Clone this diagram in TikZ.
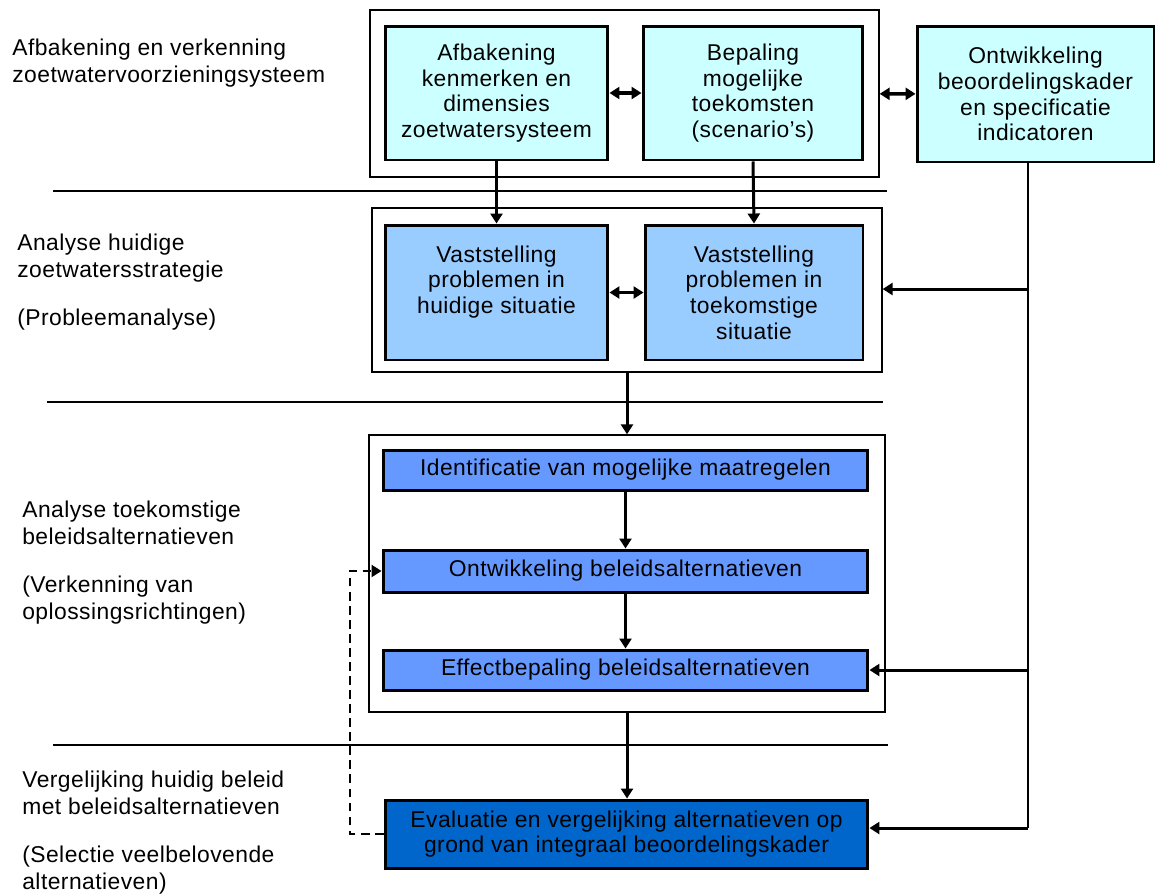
\documentclass[tikz,border=0pt]{standalone}
\usepackage{fontspec}
\setmainfont{Liberation Sans}[LetterSpace=2]
\usetikzlibrary{arrows.meta,positioning,calc}
\definecolor{ijsblauw}{HTML}{CCFFFF}
\definecolor{lichtblauw}{HTML}{99CCFF}
\definecolor{middenblauw}{HTML}{6699FF}
\definecolor{donkerblauw}{HTML}{0066CC}

\tikzset{
    stap/.style={draw, line width=1.7pt, align=center, inner sep=1pt,
        font=\fontsize{13}{14.6}\selectfont},
    kader/.style={draw, line width=0.8pt},
    scheiding/.style={line width=0.6pt},
    pijl/.style={line width=1.7pt, -{Triangle[length=2mm,width=2.4mm]}},
    dubbel/.style={line width=1.9pt, {Triangle[length=2mm,width=2.4mm]}-{Triangle[length=2mm,width=2.4mm]}},
    fase/.style={anchor=base west, align=left, inner sep=0pt,
        font=\fontsize{13}{15.2}\selectfont}
}

\begin{document}
\begin{tikzpicture}[x=0.02cm, y=-0.02cm]
\useasboundingbox (0,0) rectangle (1155,894);

% fases links (ankers op de laatste regel)
\node[fase] (fase1) at (12,82) {Afbakening en verkenning\\zoetwatervoorzieningsysteem};
\node[fase] (fase2) at (17,325) {Analyse huidige\\zoetwatersstrategie\\[0.42cm](Probleemanalyse)};
\node[fase] (fase3) at (22,619) {Analyse toekomstige\\beleidsalternatieven\\[0.42cm](Verkenning van\\oplossingsrichtingen)};
\node[fase] (fase4) at (22,889) {Vergelijking huidig beleid\\met beleidsalternatieven\\[0.42cm](Selectie veelbelovende\\alternatieven)};

% scheidingslijnen
\draw[scheiding] (53,191) -- (887,191);
\draw[scheiding] (47,402) -- (883,402);
\draw[scheiding] (53,745) -- (888,745);

% kaders
\node[kader, minimum width=10.18cm, minimum height=3.34cm] (kader1) at (624.5,93.5) {};
\node[kader, minimum width=10.2cm, minimum height=3.28cm] (kader2) at (627,290) {};
\node[kader, minimum width=10.32cm, minimum height=5.54cm] (kader3) at (627,573.5) {};

% stappen
\node[stap, fill=ijsblauw, minimum width=4.46cm, minimum height=2.68cm] (afbakening) at (496.5,93) {Afbakening\\kenmerken en\\dimensies\\zoetwatersysteem};
\node[stap, fill=ijsblauw, minimum width=4.4cm, minimum height=2.68cm] (toekomsten) at (753,93) {Bepaling\\mogelijke\\toekomsten\\(scenario's)};
\node[stap, fill=ijsblauw, minimum width=4.74cm, minimum height=2.72cm] (beoordeling) at (1035.5,94) {Ontwikkeling\\beoordelingskader\\en specificatie\\indicatoren};

\node[stap, fill=lichtblauw, minimum width=4.46cm, minimum height=2.7cm] (huidig) at (496.5,292.5) {Vaststelling\\problemen in\\huidige situatie\\\mbox{}};
\node[stap, fill=lichtblauw, minimum width=4.36cm, minimum height=2.7cm] (toekomstig) at (754,292.5) {Vaststelling\\problemen in\\toekomstige\\situatie};

\node[stap, fill=middenblauw, minimum width=9.7cm, minimum height=0.8cm] (maatregelen) at (625.5,470) {Identificatie van mogelijke maatregelen};
\node[stap, fill=middenblauw, minimum width=9.7cm, minimum height=0.84cm] (alternatieven) at (625.5,571) {Ontwikkeling beleidsalternatieven};
\node[stap, fill=middenblauw, minimum width=9.7cm, minimum height=0.8cm] (effecten) at (625.5,670) {Effectbepaling beleidsalternatieven};

\node[stap, fill=donkerblauw, minimum width=9.66cm, minimum height=1.36cm] (evaluatie) at (626.5,834) {Evaluatie en vergelijking alternatieven op\\grond van integraal beoordelingskader};

% verbindingen
\draw[dubbel] (afbakening) -- (toekomsten);
\draw[dubbel] (kader1) -- (beoordeling);
\draw[dubbel] (huidig.east |- toekomstig.west) -- (toekomstig);
\draw[pijl] (afbakening.south) -- (afbakening.south |- huidig.north);
\draw[pijl] (toekomsten.south) -- (toekomstig.north);
\draw[pijl] (kader2.south) -- (kader2.south |- kader3.north);
\draw[pijl] (maatregelen) -- (alternatieven);
\draw[pijl] (alternatieven) -- (effecten);
\draw[pijl] (kader3.south) -- (kader3.south |- evaluatie.north);

% beoordelingskader naar rechts
\coordinate (rechts) at (1028,162);
\draw[line width=1.3pt] (rechts) -- (rechts |- 0,828);
\draw[pijl] (rechts |- 0,289) -- (kader2.east |- 0,289);
\draw[pijl] (rechts |- effecten.east) -- (effecten.east);
\draw[pijl] (rechts |- 0,828) -- (evaluatie.east |- 0,828);

% terugkoppeling
\coordinate (links) at (350,0);
\draw[line width=1.2pt, dashed, dash pattern=on 5pt off 3pt, -{Triangle[length=2mm,width=2.4mm]}]
    (evaluatie.west) -- (evaluatie.west -| links) -- (alternatieven.west -| links) -- (alternatieven.west);
\end{tikzpicture}
\end{document}
